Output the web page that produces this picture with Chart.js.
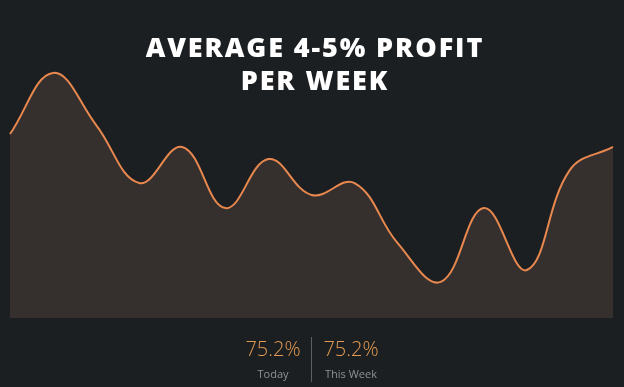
<!DOCTYPE html>
<html lang="en">
  <head>
    <meta charset="UTF-8" />
    <title>Average profit per week</title>
    <script src="https://cdn.jsdelivr.net/npm/chart.js@4"></script>
    <style>
      html,
      body {
        margin: 0;
        padding: 0;
        background: #1c1f22;
      }
      #wrap {
        position: relative;
        width: 624px;
        height: 387px;
        overflow: hidden;
      }
      #profitChart {
        position: absolute;
        left: 0;
        top: 0;
      }
      .title {
        position: absolute;
        left: 0;
        top: 30px;
        width: 630px;
        text-align: center;
        color: #fff;
        font-family: "Open Sans", sans-serif;
        font-weight: 800;
        font-size: 27px;
        line-height: 33px;
        letter-spacing: 1.9px;
      }
      .stat {
        position: absolute;
        top: 336px;
        text-align: center;
        font-family: "Open Sans", sans-serif;
      }
      .stat .num {
        color: #e39a52;
        font-size: 20px;
        font-weight: 300;
        line-height: 26px;
      }
      .stat .lbl {
        color: #8e9296;
        font-size: 11px;
        line-height: 14px;
        margin-top: 5px;
      }
      .divider {
        position: absolute;
        left: 311px;
        top: 337px;
        width: 1px;
        height: 45px;
        background: #5b6064;
      }
    </style>
  </head>
  <body>
    <div id="wrap">
      <canvas id="profitChart" width="624" height="387"></canvas>
      <div class="title">AVERAGE 4-5% PROFIT<br />PER WEEK</div>
      <div class="stat" style="left: 233px; width: 80px">
        <div class="num" id="todayVal"></div>
        <div class="lbl">Today</div>
      </div>
      <div class="divider"></div>
      <div class="stat" style="left: 311px; width: 80px">
        <div class="num" id="weekVal"></div>
        <div class="lbl">This Week</div>
      </div>
    </div>
    <script>
      // weekly profit curve (0-100 scale)
      const weeks = ["1", "2", "3", "4", "5", "6", "7", "8", "9", "10", "11", "12", "13", "14", "15"];
      const profit = [71.3, 95, 74.8, 52.3, 66.3, 42.6, 61.6, 47.7, 52.3, 29, 14, 42.6, 18.6, 57.4, 66.3];
      const todayProfit = "75.2%";
      const weekProfit = "75.2%";

      document.querySelector("#todayVal").textContent = todayProfit;
      document.querySelector("#weekVal").textContent = weekProfit;

      const ctx = document.querySelector("#profitChart").getContext("2d");
      const myChart = new Chart(ctx, {
        type: "line",
        data: {
          labels: weeks,
          datasets: [
            {
              data: profit,
              borderColor: "#e8884f",
              borderWidth: 2,
              backgroundColor: "#352f2d",
              fill: "origin",
              tension: 0.4,
              pointRadius: 0,
            },
          ],
        },
        options: {
          responsive: false,
          animation: false,
          layout: {
            padding: { left: 10, right: 11, top: 60, bottom: 69 },
          },
          plugins: {
            legend: { display: false },
            tooltip: { enabled: false },
          },
          scales: {
            x: { display: false },
            y: { display: false, min: 0, max: 100 },
          },
        },
      });
    </script>
  </body>
</html>
